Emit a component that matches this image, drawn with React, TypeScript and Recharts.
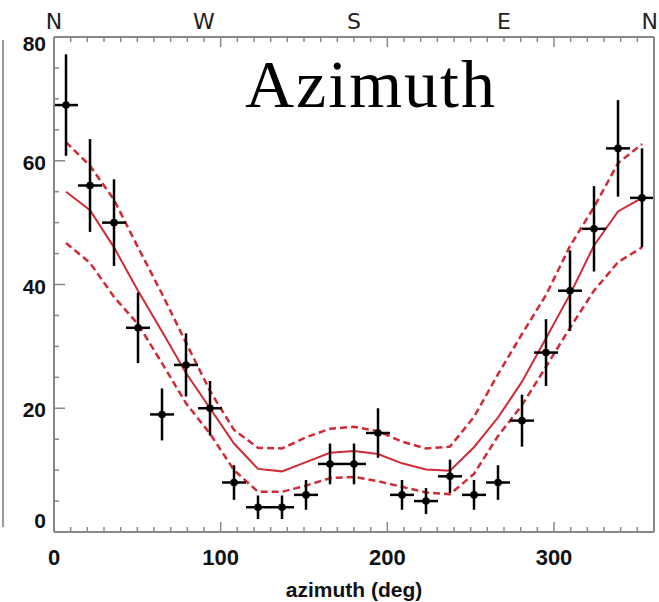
import {
  ComposedChart,
  Line,
  Scatter,
  ErrorBar,
  XAxis,
  YAxis,
} from 'recharts'

// bin centres (deg) and measured counts
const azimuths = [
  7.2, 21.6, 36, 50.4, 64.8, 79.2, 93.6, 108, 122.4, 136.8, 151.2, 165.6, 180,
  194.4, 208.8, 223.2, 237.6, 252, 266.4, 280.8, 295.2, 309.6, 324, 338.4, 352.8,
]
const counts = [69, 56, 50, 33, 19, 27, 20, 8, 4, 4, 6, 11, 11, 16, 6, 5, 9, 6, 8, 18, 29, 39, 49, 62, 54]
const errors = [8.2, 7.5, 7, 5.7, 4.2, 5.1, 4.4, 2.8, 1.9, 1.9, 2.4, 3.3, 3.3, 4, 2.4, 2.1, 2.7, 2.4, 2.8, 4.2, 5.4, 6.5, 6.9, 7.8, 8]
const halfBin = 7.2

// model curve with its upper / lower envelope
const model = [55, 52, 46, 39, 32.4, 25.7, 20, 14.3, 10.2, 9.8, 11.3, 12.8, 13.1, 12.6, 11.1, 10.1, 9.9, 13.7, 18.5, 24.3, 31.3, 38.4, 46.3, 51.8, 54]
const upper = [63, 59.2, 53.7, 46, 38.5, 30.6, 22.8, 16.5, 13.6, 13.5, 15.3, 16.7, 17, 16.3, 14.6, 13.5, 13.8, 18.6, 25.5, 32, 38.3, 46.2, 52.5, 59.6, 62.7]
const lower = [46.7, 43.5, 38, 33.6, 27.3, 20.8, 15.9, 10, 6.5, 6.5, 7.5, 8.7, 8.9, 8.2, 7.3, 6.4, 6.1, 9.4, 15.5, 20.5, 26.7, 33, 39, 43.6, 46]

const xTicks = [0, 10, 20, 30, 40, 50, 60, 70, 80, 90, 100, 110, 120, 130, 140, 150, 160, 170, 180, 190, 200, 210, 220, 230, 240, 250, 260, 270, 280, 290, 300, 310, 320, 330, 340, 350, 360]
const yTicks = [0, 5, 10, 15, 20, 25, 30, 35, 40, 45, 50, 55, 60, 65, 70, 75, 80]
const compass: Record<number, string> = { 0: 'N', 90: 'W', 180: 'S', 270: 'E', 360: 'N' }

const data = azimuths.map((az, i) => ({
  az,
  count: counts[i],
  err: errors[i],
  xerr: halfBin,
  model: model[i],
  upper: upper[i],
  lower: lower[i],
}))

const W = 659
const H = 602
const LEFT = 54
const RIGHT = 654
const TOP = 37
const BOTTOM = 532
const AXIS = '#888'
const RED = '#d02a36'
const tickFont = 'Liberation Sans, Arial, sans-serif'

const BottomTick = (props: any) => {
  const { x, payload } = props
  const v = payload.value
  const major = v % 100 === 0
  return (
    <g>
      <line x1={x} x2={x} y1={BOTTOM} y2={BOTTOM - (major ? 10 : 5)} stroke={AXIS} strokeWidth={1.5} />
      {major && (
        <text x={x} y={565} textAnchor="middle" fontFamily={tickFont} fontWeight="bold" fontSize={22} fill="#111">
          {v}
        </text>
      )}
    </g>
  )
}

const TopTick = (props: any) => {
  const { x, payload } = props
  const v = payload.value
  const major = v % 100 === 0
  // last letter sits at the right edge, keep it inside the picture
  const atEdge = v === 360
  return (
    <g>
      <line x1={x} x2={x} y1={TOP} y2={TOP + (major ? 10 : 5)} stroke={AXIS} strokeWidth={1.5} />
      {compass[v] && (
        <text
          x={atEdge ? W - 1 : x}
          y={29}
          textAnchor={atEdge ? 'end' : 'middle'}
          fontFamily="DejaVu Sans, sans-serif"
          fontSize={22}
          fill="#222"
        >
          {compass[v]}
        </text>
      )}
    </g>
  )
}

const LeftTick = (props: any) => {
  const { y, payload } = props
  const v = payload.value
  const major = v % 20 === 0
  const ly = Math.min(Math.max(y + 2, 44), 521)
  return (
    <g>
      <line x1={LEFT} x2={LEFT + (major ? 11 : 5)} y1={y} y2={y} stroke={AXIS} strokeWidth={1.5} />
      {major && (
        <text x={46} y={ly + 7} textAnchor="end" fontFamily={tickFont} fontWeight="bold" fontSize={21} fill="#111">
          {v}
        </text>
      )}
    </g>
  )
}

const RightTick = (props: any) => {
  const { y, payload } = props
  const major = payload.value % 20 === 0
  return <line x1={RIGHT} x2={RIGHT - (major ? 11 : 5)} y1={y} y2={y} stroke={AXIS} strokeWidth={1.5} />
}

const Dot = (props: any) => <circle cx={props.cx} cy={props.cy} r={3.8} fill="#000" />

export default function App() {
  return (
    <div style={{ position: 'absolute', left: 0, top: 0, width: W, height: H, background: '#fff' }}>
      <ComposedChart width={W} height={H} data={data} margin={{ top: 0, right: 0, bottom: 0, left: 0 }}>
        <XAxis
          xAxisId="b"
          dataKey="az"
          type="number"
          domain={[0, 360]}
          ticks={xTicks}
          interval={0}
          height={H - BOTTOM}
          tick={BottomTick}
          tickLine={false}
          axisLine={{ stroke: AXIS, strokeWidth: 2 }}
          label={{ value: 'azimuth (deg)', position: 'insideBottom', offset: 5, fontFamily: tickFont, fontWeight: 'bold', fontSize: 21, fill: '#111' }}
        />
        <XAxis
          xAxisId="t"
          orientation="top"
          dataKey="az"
          type="number"
          domain={[0, 360]}
          ticks={xTicks}
          interval={0}
          height={TOP}
          tick={TopTick}
          tickLine={false}
          axisLine={{ stroke: AXIS, strokeWidth: 2 }}
        />
        <YAxis
          yAxisId="l"
          type="number"
          domain={[0, 80]}
          ticks={yTicks}
          interval={0}
          width={LEFT}
          tick={LeftTick}
          tickLine={false}
          axisLine={{ stroke: AXIS, strokeWidth: 2 }}
        />
        <YAxis
          yAxisId="r"
          orientation="right"
          type="number"
          domain={[0, 80]}
          ticks={yTicks}
          interval={0}
          width={W - RIGHT}
          tick={RightTick}
          tickLine={false}
          axisLine={{ stroke: AXIS, strokeWidth: 2 }}
        />
        <Line xAxisId="b" yAxisId="l" dataKey="upper" type="linear" stroke={RED} strokeWidth={2.5} strokeDasharray="7 4" dot={false} isAnimationActive={false} />
        <Line xAxisId="b" yAxisId="l" dataKey="lower" type="linear" stroke={RED} strokeWidth={2.5} strokeDasharray="7 4" dot={false} isAnimationActive={false} />
        <Line xAxisId="b" yAxisId="l" dataKey="model" type="linear" stroke={RED} strokeWidth={2} dot={false} isAnimationActive={false} />
        <Scatter xAxisId="b" yAxisId="l" dataKey="count" shape={Dot} isAnimationActive={false}>
          <ErrorBar dataKey="err" direction="y" width={0} stroke="#000" strokeWidth={2.5} />
          <ErrorBar dataKey="xerr" direction="x" width={0} stroke="#000" strokeWidth={2.5} />
        </Scatter>
      </ComposedChart>
      <svg width={W} height={H} style={{ position: 'absolute', left: 0, top: 0, pointerEvents: 'none' }}>
        <line x1={3} x2={3} y1={40} y2={527} stroke="#999" strokeWidth={2} />
        <text x={245} y={107} fontFamily="Liberation Serif, Times New Roman, serif" fontSize={68} letterSpacing={2} fill="#000">
          Azimuth
        </text>
      </svg>
    </div>
  )
}
